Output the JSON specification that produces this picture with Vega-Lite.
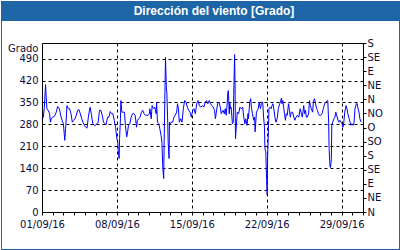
{
 "$schema": "https://vega.github.io/schema/vega-lite/v6.json",
 "background": "white",
 "padding": 0,
 "spacing": 0,
 "bounds": "flush",
 "columns": 4,
 "config": {
  "font": "DejaVu Sans",
  "view": {"stroke": null},
  "axis": {"labelFont": "DejaVu Sans", "labelFontSize": 10, "labelColor": "#0b0b3b", "titleFont": "DejaVu Sans", "titleFontSize": 10, "titleFontWeight": "normal", "titleColor": "#0b0b3b", "domainColor": "black", "tickColor": "black", "gridColor": "black", "gridDash": [3, 3], "gridOpacity": 1, "labelFlush": false}
 },
 "concat": [
  {"width": 1, "height": 20, "view": {"fill": "#1d65a6"}, "data": {"values": [{}]}, "mark": {"type": "rule", "opacity": 0}, "encoding": {}},
  {"width": 40, "height": 20, "view": {"fill": "#1d65a6"}, "data": {"values": [{}]}, "mark": {"type": "rule", "opacity": 0}, "encoding": {}},
  {
   "width": 357,
   "height": 20,
   "view": {"fill": "#1d65a6"},
   "data": {"values": [{"label": "Dirección del viento [Grado]"}]},
   "mark": {"type": "text", "color": "white", "font": "Liberation Sans", "fontSize": 12, "fontWeight": "bold", "dx": -6.5, "baseline": "middle", "align": "center"},
   "encoding": {"text": {"field": "label"}}
  },
  {"width": 2, "height": 20, "view": {"fill": "#1d65a6"}, "data": {"values": [{}]}, "mark": {"type": "rule", "opacity": 0}, "encoding": {}},

  {"width": 1, "height": 22, "view": {"fill": "#1d65a6"}, "data": {"values": [{}]}, "mark": {"type": "rule", "opacity": 0}, "encoding": {}},
  {"width": 40, "height": 22, "data": {"values": [{}]}, "mark": {"type": "rule", "opacity": 0}, "encoding": {}},
  {"width": 357, "height": 22, "data": {"values": [{}]}, "mark": {"type": "rule", "opacity": 0}, "encoding": {}},
  {"width": 2, "height": 22, "view": {"fill": "#1d65a6"}, "data": {"values": [{}]}, "mark": {"type": "rule", "opacity": 0}, "encoding": {}},

  {"width": 1, "height": 169, "view": {"fill": "#1d65a6"}, "data": {"values": [{}]}, "mark": {"type": "rule", "opacity": 0}, "encoding": {}},
  {"width": 40, "height": 169, "data": {"values": [{}]}, "mark": {"type": "rule", "opacity": 0}, "encoding": {}},
  {
   "width": 321,
   "height": 169,
   "view": {"stroke": "black", "fill": "white"},
   "data": {"values": [
{"t":"2016-09-01T00:00","v":298},{"t":"2016-09-01T03:00","v":303},{"t":"2016-09-01T05:00","v":330},{"t":"2016-09-01T08:00","v":407},{"t":"2016-09-01T09:00","v":377},{"t":"2016-09-01T11:00","v":330},{"t":"2016-09-01T14:00","v":325},{"t":"2016-09-01T17:00","v":314},{"t":"2016-09-01T19:00","v":287},{"t":"2016-09-01T21:00","v":300},
{"t":"2016-09-02T00:00","v":303},{"t":"2016-09-02T04:00","v":306},{"t":"2016-09-02T08:00","v":319},{"t":"2016-09-02T11:00","v":337},{"t":"2016-09-02T15:00","v":330},{"t":"2016-09-02T18:00","v":309},{"t":"2016-09-02T21:00","v":293},
{"t":"2016-09-03T00:00","v":282},{"t":"2016-09-03T03:00","v":229},{"t":"2016-09-03T05:00","v":266},{"t":"2016-09-03T08:00","v":340},{"t":"2016-09-03T11:00","v":330},{"t":"2016-09-03T14:00","v":330},{"t":"2016-09-03T17:00","v":314},{"t":"2016-09-03T20:00","v":287},{"t":"2016-09-03T23:00","v":293},
{"t":"2016-09-04T02:00","v":298},{"t":"2016-09-04T05:00","v":309},{"t":"2016-09-04T08:00","v":325},{"t":"2016-09-04T11:00","v":327},{"t":"2016-09-04T14:00","v":314},{"t":"2016-09-04T17:00","v":298},{"t":"2016-09-04T20:00","v":287},{"t":"2016-09-04T23:00","v":277},
{"t":"2016-09-05T02:00","v":271},{"t":"2016-09-05T05:00","v":268},{"t":"2016-09-05T08:00","v":303},{"t":"2016-09-05T11:00","v":330},{"t":"2016-09-05T12:00","v":335},{"t":"2016-09-05T15:00","v":309},{"t":"2016-09-05T18:00","v":282},{"t":"2016-09-05T21:00","v":277},
{"t":"2016-09-06T00:00","v":277},{"t":"2016-09-06T03:00","v":282},{"t":"2016-09-06T06:00","v":287},{"t":"2016-09-06T09:00","v":325},{"t":"2016-09-06T12:00","v":325},{"t":"2016-09-06T15:00","v":309},{"t":"2016-09-06T18:00","v":287},{"t":"2016-09-06T21:00","v":282},
{"t":"2016-09-07T00:00","v":279},{"t":"2016-09-07T03:00","v":303},{"t":"2016-09-07T06:00","v":303},{"t":"2016-09-07T09:00","v":321},{"t":"2016-09-07T12:00","v":314},{"t":"2016-09-07T15:00","v":314},{"t":"2016-09-07T18:00","v":293},{"t":"2016-09-07T21:00","v":271},
{"t":"2016-09-08T00:00","v":234},{"t":"2016-09-08T02:00","v":224},{"t":"2016-09-08T03:00","v":197},{"t":"2016-09-08T05:00","v":171},{"t":"2016-09-08T06:00","v":234},{"t":"2016-09-08T08:00","v":298},{"t":"2016-09-08T09:00","v":356},{"t":"2016-09-08T11:00","v":319},{"t":"2016-09-08T14:00","v":319},{"t":"2016-09-08T17:00","v":319},{"t":"2016-09-08T19:00","v":277},{"t":"2016-09-08T22:00","v":240},
{"t":"2016-09-09T00:00","v":256},{"t":"2016-09-09T02:00","v":277},{"t":"2016-09-09T05:00","v":282},{"t":"2016-09-09T08:00","v":303},{"t":"2016-09-09T11:00","v":314},{"t":"2016-09-09T14:00","v":314},{"t":"2016-09-09T17:00","v":309},{"t":"2016-09-09T20:00","v":271},{"t":"2016-09-09T22:00","v":293},
{"t":"2016-09-10T01:00","v":298},{"t":"2016-09-10T04:00","v":303},{"t":"2016-09-10T07:00","v":319},{"t":"2016-09-10T10:00","v":325},{"t":"2016-09-10T13:00","v":314},{"t":"2016-09-10T16:00","v":309},{"t":"2016-09-10T19:00","v":309},{"t":"2016-09-10T22:00","v":309},
{"t":"2016-09-11T01:00","v":314},{"t":"2016-09-11T02:00","v":330},{"t":"2016-09-11T05:00","v":298},{"t":"2016-09-11T07:00","v":340},{"t":"2016-09-11T10:00","v":330},{"t":"2016-09-11T13:00","v":335},{"t":"2016-09-11T16:00","v":314},{"t":"2016-09-11T17:00","v":351},{"t":"2016-09-11T19:00","v":287},{"t":"2016-09-11T22:00","v":282},
{"t":"2016-09-12T01:00","v":261},{"t":"2016-09-12T03:00","v":245},{"t":"2016-09-12T05:00","v":224},{"t":"2016-09-12T07:00","v":139},{"t":"2016-09-12T09:00","v":107},{"t":"2016-09-12T10:00","v":224},{"t":"2016-09-12T12:00","v":404},{"t":"2016-09-12T13:00","v":494},{"t":"2016-09-12T15:00","v":393},{"t":"2016-09-12T16:00","v":383},{"t":"2016-09-12T18:00","v":287},{"t":"2016-09-12T19:00","v":224},{"t":"2016-09-12T21:00","v":171},{"t":"2016-09-12T22:00","v":287},
{"t":"2016-09-13T00:00","v":282},{"t":"2016-09-13T02:00","v":287},{"t":"2016-09-13T05:00","v":287},{"t":"2016-09-13T08:00","v":303},{"t":"2016-09-13T11:00","v":309},{"t":"2016-09-13T14:00","v":319},{"t":"2016-09-13T16:00","v":346},{"t":"2016-09-13T18:00","v":330},{"t":"2016-09-13T20:00","v":287},{"t":"2016-09-13T23:00","v":298},
{"t":"2016-09-14T02:00","v":287},{"t":"2016-09-14T05:00","v":330},{"t":"2016-09-14T08:00","v":356},{"t":"2016-09-14T11:00","v":351},{"t":"2016-09-14T14:00","v":335},{"t":"2016-09-14T17:00","v":325},{"t":"2016-09-14T20:00","v":319},{"t":"2016-09-14T23:00","v":303},
{"t":"2016-09-15T02:00","v":325},{"t":"2016-09-15T05:00","v":330},{"t":"2016-09-15T08:00","v":314},{"t":"2016-09-15T11:00","v":346},{"t":"2016-09-15T14:00","v":356},{"t":"2016-09-15T17:00","v":340},{"t":"2016-09-15T20:00","v":335},
{"t":"2016-09-16T00:00","v":340},{"t":"2016-09-16T03:00","v":335},{"t":"2016-09-16T06:00","v":351},{"t":"2016-09-16T09:00","v":356},{"t":"2016-09-16T12:00","v":346},{"t":"2016-09-16T15:00","v":356},{"t":"2016-09-16T18:00","v":346},{"t":"2016-09-16T21:00","v":340},
{"t":"2016-09-17T00:00","v":335},{"t":"2016-09-17T03:00","v":325},{"t":"2016-09-17T05:00","v":298},{"t":"2016-09-17T07:00","v":319},{"t":"2016-09-17T10:00","v":346},{"t":"2016-09-17T13:00","v":351},{"t":"2016-09-17T16:00","v":335},{"t":"2016-09-17T18:00","v":314},{"t":"2016-09-17T20:00","v":319},{"t":"2016-09-17T22:00","v":325},
{"t":"2016-09-18T01:00","v":314},{"t":"2016-09-18T03:00","v":330},{"t":"2016-09-18T05:00","v":309},{"t":"2016-09-18T07:00","v":340},{"t":"2016-09-18T09:00","v":383},{"t":"2016-09-18T10:00","v":388},{"t":"2016-09-18T12:00","v":314},{"t":"2016-09-18T13:00","v":351},{"t":"2016-09-18T15:00","v":330},{"t":"2016-09-18T16:00","v":335},{"t":"2016-09-18T18:00","v":303},{"t":"2016-09-18T19:00","v":282},{"t":"2016-09-18T21:00","v":287},{"t":"2016-09-18T22:00","v":372},
{"t":"2016-09-19T00:00","v":503},{"t":"2016-09-19T01:00","v":409},{"t":"2016-09-19T02:00","v":234},{"t":"2016-09-19T04:00","v":277},{"t":"2016-09-19T06:00","v":319},{"t":"2016-09-19T09:00","v":314},{"t":"2016-09-19T12:00","v":335},{"t":"2016-09-19T15:00","v":330},{"t":"2016-09-19T18:00","v":335},{"t":"2016-09-19T21:00","v":298},{"t":"2016-09-19T23:00","v":282},
{"t":"2016-09-20T01:00","v":298},{"t":"2016-09-20T04:00","v":277},{"t":"2016-09-20T06:00","v":314},{"t":"2016-09-20T07:00","v":298},{"t":"2016-09-20T10:00","v":351},{"t":"2016-09-20T12:00","v":362},{"t":"2016-09-20T14:00","v":330},{"t":"2016-09-20T16:00","v":314},{"t":"2016-09-20T19:00","v":293},{"t":"2016-09-20T21:00","v":303},{"t":"2016-09-20T22:00","v":256},
{"t":"2016-09-21T01:00","v":319},{"t":"2016-09-21T03:00","v":325},{"t":"2016-09-21T05:00","v":330},{"t":"2016-09-21T07:00","v":351},{"t":"2016-09-21T10:00","v":330},{"t":"2016-09-21T12:00","v":346},{"t":"2016-09-21T13:00","v":351},{"t":"2016-09-21T15:00","v":351},{"t":"2016-09-21T17:00","v":303},{"t":"2016-09-21T19:00","v":271},{"t":"2016-09-21T20:00","v":203},{"t":"2016-09-21T22:00","v":192},{"t":"2016-09-21T23:00","v":139},
{"t":"2016-09-22T01:00","v":55},{"t":"2016-09-22T02:00","v":171},{"t":"2016-09-22T04:00","v":266},{"t":"2016-09-22T05:00","v":330},{"t":"2016-09-22T07:00","v":335},{"t":"2016-09-22T10:00","v":330},{"t":"2016-09-22T12:00","v":340},{"t":"2016-09-22T14:00","v":346},{"t":"2016-09-22T16:00","v":330},{"t":"2016-09-22T19:00","v":298},{"t":"2016-09-22T21:00","v":287},
{"t":"2016-09-23T00:00","v":303},{"t":"2016-09-23T02:00","v":330},{"t":"2016-09-23T05:00","v":346},{"t":"2016-09-23T07:00","v":351},{"t":"2016-09-23T09:00","v":364},{"t":"2016-09-23T10:00","v":346},{"t":"2016-09-23T12:00","v":356},{"t":"2016-09-23T14:00","v":335},{"t":"2016-09-23T16:00","v":314},{"t":"2016-09-23T18:00","v":293},{"t":"2016-09-23T20:00","v":314},{"t":"2016-09-23T22:00","v":309},
{"t":"2016-09-24T01:00","v":346},{"t":"2016-09-24T03:00","v":325},{"t":"2016-09-24T05:00","v":303},{"t":"2016-09-24T07:00","v":319},{"t":"2016-09-24T10:00","v":319},{"t":"2016-09-24T13:00","v":303},{"t":"2016-09-24T15:00","v":293},{"t":"2016-09-24T18:00","v":303},{"t":"2016-09-24T21:00","v":309},
{"t":"2016-09-25T00:00","v":303},{"t":"2016-09-25T03:00","v":330},{"t":"2016-09-25T06:00","v":314},{"t":"2016-09-25T08:00","v":303},{"t":"2016-09-25T11:00","v":340},{"t":"2016-09-25T13:00","v":314},{"t":"2016-09-25T15:00","v":325},{"t":"2016-09-25T17:00","v":303},{"t":"2016-09-25T19:00","v":303},{"t":"2016-09-25T22:00","v":314},
{"t":"2016-09-26T00:00","v":356},{"t":"2016-09-26T02:00","v":340},{"t":"2016-09-26T04:00","v":330},{"t":"2016-09-26T07:00","v":319},{"t":"2016-09-26T09:00","v":356},{"t":"2016-09-26T11:00","v":362},{"t":"2016-09-26T13:00","v":351},{"t":"2016-09-26T16:00","v":330},{"t":"2016-09-26T18:00","v":325},{"t":"2016-09-26T20:00","v":314},{"t":"2016-09-26T22:00","v":309},
{"t":"2016-09-27T01:00","v":309},{"t":"2016-09-27T04:00","v":314},{"t":"2016-09-27T07:00","v":330},{"t":"2016-09-27T10:00","v":346},{"t":"2016-09-27T13:00","v":351},{"t":"2016-09-27T16:00","v":356},{"t":"2016-09-27T17:00","v":356},{"t":"2016-09-27T19:00","v":287},{"t":"2016-09-27T20:00","v":203},{"t":"2016-09-27T22:00","v":145},{"t":"2016-09-27T23:00","v":142},
{"t":"2016-09-28T01:00","v":167},{"t":"2016-09-28T02:00","v":277},{"t":"2016-09-28T04:00","v":287},{"t":"2016-09-28T07:00","v":298},{"t":"2016-09-28T09:00","v":303},{"t":"2016-09-28T11:00","v":319},{"t":"2016-09-28T13:00","v":309},{"t":"2016-09-28T16:00","v":293},{"t":"2016-09-28T18:00","v":287},{"t":"2016-09-28T20:00","v":293},{"t":"2016-09-28T23:00","v":287},
{"t":"2016-09-29T01:00","v":282},{"t":"2016-09-29T03:00","v":271},{"t":"2016-09-29T05:00","v":287},{"t":"2016-09-29T07:00","v":319},{"t":"2016-09-29T10:00","v":340},{"t":"2016-09-29T12:00","v":330},{"t":"2016-09-29T14:00","v":314},{"t":"2016-09-29T17:00","v":298},{"t":"2016-09-29T19:00","v":287},{"t":"2016-09-29T21:00","v":277},{"t":"2016-09-29T23:00","v":282},
{"t":"2016-09-30T02:00","v":277},{"t":"2016-09-30T04:00","v":287},{"t":"2016-09-30T06:00","v":330},{"t":"2016-09-30T09:00","v":346},{"t":"2016-09-30T11:00","v":346},{"t":"2016-09-30T13:00","v":330},{"t":"2016-09-30T15:00","v":319},{"t":"2016-09-30T17:00","v":298},{"t":"2016-09-30T20:00","v":287}
   ]},
   "encoding": {
    "x": {
     "field": "t", "type": "temporal",
     "scale": {"domain": [{"year": 2016, "month": 9, "date": 1}, {"year": 2016, "month": 10, "date": 1}]},
     "axis": {
      "title": null,
      "tickCount": {"interval": "day", "step": 1},
      "labelExpr": "month(datum.value) == 8 && (date(datum.value) - 1) % 7 == 0 ? timeFormat(datum.value, '%d/%m/%y') : ''",
      "labelOverlap": false,
      "labelFlush": false,
      "tickSize": 3,
      "labelPadding": 4,
      "grid": true,
      "gridOpacity": {"condition": {"test": "month(datum.value) == 8 && date(datum.value) > 1 && (date(datum.value) - 1) % 7 == 0", "value": 1}, "value": 0}
     }
    }
   },
   "layer": [
    {
     "mark": {"type": "line", "color": "#0000ff", "strokeWidth": 1},
     "encoding": {
      "y": {
       "field": "v", "type": "quantitative",
       "scale": {"domain": [0, 540], "nice": false},
       "axis": {"orient": "left", "values": [0, 70, 140, 210, 280, 350, 420, 490], "grid": true, "tickSize": 0, "labelPadding": 4, "labelOverlap": false, "title": "Grado", "titleAngle": 0, "titleAlign": "right", "titleBaseline": "middle", "titleX": -4, "titleY": 5}
      }
     }
    },
    {
     "mark": {"type": "line", "opacity": 0},
     "encoding": {
      "y": {
       "field": "v", "type": "quantitative",
       "scale": {"domain": [0, 540], "nice": false},
       "axis": {"orient": "right", "values": [0, 45, 90, 135, 180, 225, 270, 315, 360, 405, 450, 495, 540], "grid": false, "tickSize": 3, "labelPadding": 1, "labelOverlap": false, "title": null, "labelExpr": "['N','NE','E','SE','S','SO','O','NO'][(datum.value / 45) % 8]"}
      }
     }
    }
   ],
   "resolve": {"axis": {"y": "independent"}}
  },
  {"width": 2, "height": 169, "view": {"fill": "#1d65a6"}, "data": {"values": [{}]}, "mark": {"type": "rule", "opacity": 0}, "encoding": {}},

  {"width": 1, "height": 37, "view": {"fill": "#1d65a6"}, "data": {"values": [{}]}, "mark": {"type": "rule", "opacity": 0}, "encoding": {}},
  {"width": 40, "height": 37, "data": {"values": [{}]}, "mark": {"type": "rule", "opacity": 0}, "encoding": {}},
  {"width": 357, "height": 37, "data": {"values": [{}]}, "mark": {"type": "rule", "opacity": 0}, "encoding": {}},
  {"width": 2, "height": 37, "view": {"fill": "#1d65a6"}, "data": {"values": [{}]}, "mark": {"type": "rule", "opacity": 0}, "encoding": {}},

  {"width": 1, "height": 2, "view": {"fill": "#1d65a6"}, "data": {"values": [{}]}, "mark": {"type": "rule", "opacity": 0}, "encoding": {}},
  {"width": 40, "height": 2, "view": {"fill": "#1d65a6"}, "data": {"values": [{}]}, "mark": {"type": "rule", "opacity": 0}, "encoding": {}},
  {"width": 357, "height": 2, "view": {"fill": "#1d65a6"}, "data": {"values": [{}]}, "mark": {"type": "rule", "opacity": 0}, "encoding": {}},
  {"width": 2, "height": 2, "view": {"fill": "#1d65a6"}, "data": {"values": [{}]}, "mark": {"type": "rule", "opacity": 0}, "encoding": {}}
 ]
}
